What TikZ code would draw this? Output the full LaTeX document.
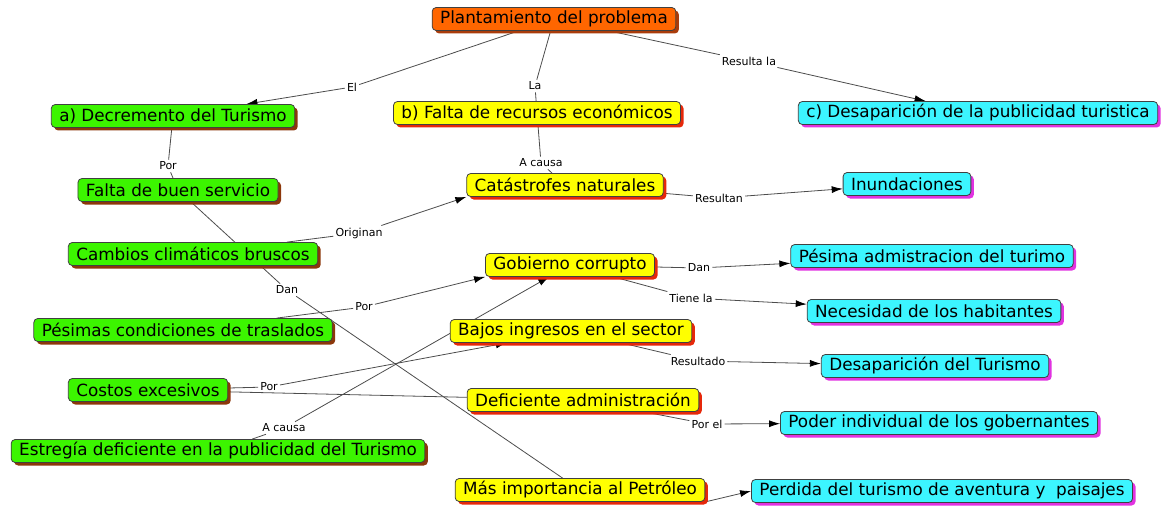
\documentclass[tikz,border=0pt]{standalone}
\usepackage{fontspec}
\setmainfont{DejaVu Sans}
\usetikzlibrary{arrows.meta,shadows,backgrounds}

\definecolor{cnaranja}{RGB}{255,102,0}
\definecolor{snaranja}{RGB}{170,60,10}
\definecolor{cverde}{RGB}{60,245,0}
\definecolor{sverde}{RGB}{140,55,10}
\definecolor{camarillo}{RGB}{255,255,0}
\definecolor{samarillo}{RGB}{230,40,10}
\definecolor{cceleste}{RGB}{60,245,255}
\definecolor{sceleste}{RGB}{225,50,225}

\begin{document}
\begin{tikzpicture}[x=1pt, y=-1pt, >={Latex[length=11pt,width=7pt,color=black]},
  concepto/.style={draw=black!75, line width=0.8pt, rounded corners=4pt,
    inner xsep=8pt, inner ysep=0pt, minimum height=23pt,
    font=\fontsize{16.8}{18}\selectfont},
  naranja/.style={concepto, fill=cnaranja,
    drop shadow={shadow xshift=3pt, shadow yshift=-3pt, fill=snaranja, opacity=1}},
  verde/.style={concepto, fill=cverde,
    drop shadow={shadow xshift=3pt, shadow yshift=-3pt, fill=sverde, opacity=1}},
  amarillo/.style={concepto, fill=camarillo,
    drop shadow={shadow xshift=3pt, shadow yshift=-3pt, fill=samarillo, opacity=1}},
  celeste/.style={concepto, fill=cceleste,
    drop shadow={shadow xshift=3pt, shadow yshift=-3pt, fill=sceleste, opacity=1}},
  enlace/.style={font=\fontsize{11}{12}\selectfont, inner sep=2pt},
  linea/.style={draw=black!70, line width=0.8pt}]

  \useasboundingbox (0,0) rectangle (1162,508);

  % Conceptos
  \node (plan) at (554,19) [naranja] {Plantamiento del problema};
  \node (decre) at (173,116) [verde] {a) Decremento del Turismo};
  \node (falta) at (537,113) [amarillo] {b) Falta de recursos económicos};
  \node (desap) at (978,113) [celeste] {c) Desaparición de la publicidad turistica};
  \node (servicio) at (178,190) [verde] {Falta de buen servicio};
  \node (catas) at (565,185) [amarillo] {Catástrofes naturales};
  \node (inund) at (907,184) [celeste] {Inundaciones};
  \node (cambios) at (193,254) [verde] {Cambios climáticos bruscos};
  \node (gob) at (570,265) [amarillo] {Gobierno corrupto};
  \node (pesadm) at (932,256) [celeste] {Pésima admistracion del turimo};
  \node (necesidad) at (934,311) [celeste] {Necesidad de los habitantes};
  \node (traslados) at (183,330) [verde] {Pésimas condiciones de traslados};
  \node (bajos) at (571,331) [amarillo] {Bajos ingresos en el sector};
  \node (desturismo) at (935,366) [celeste] {Desaparición del Turismo};
  \node (costos) at (148,390) [verde] {Costos excesivos};
  \node (deficiente) at (583,400) [amarillo] {Deficiente administración};
  \node (poder) at (939,423) [celeste] {Poder individual de los gobernantes};
  \node (estrategia) at (218,451) [verde] {Estregía deficiente en la publicidad del Turismo};
  \node (petroleo) at (580,490) [amarillo] {Más importancia al Petróleo};
  \node (perdida) at (942,491) [celeste] {Perdida del turismo de aventura y~ paisajes};

  % Frases de enlace
  \node (lEl) at (352,87) [enlace] {El};
  \node (lLa) at (535,86) [enlace] {La};
  \node (lResulta) at (749,61) [enlace] {Resulta la};
  \node (lPor1) at (168,166) [enlace] {Por};
  \node (lCausa1) at (541,163) [enlace] {A causa};
  \node (lResultan) at (719,198) [enlace] {Resultan};
  \node (lOriginan) at (359,233) [enlace] {Originan};
  \node (lDan1) at (287,290) [enlace] {Dan};
  \node (lDan2) at (699,268) [enlace] {Dan};
  \node (lTiene) at (691,298) [enlace] {Tiene la};
  \node (lPor2) at (364,307) [enlace] {Por};
  \node (lResultado) at (698,361) [enlace] {Resultado};
  \node (lPor3) at (269,387) [enlace] {Por};
  \node (lPorEl) at (707,424) [enlace] {Por el};
  \node (lCausa2) at (284,428) [enlace] {A causa};

  % Conexiones
  \begin{scope}[on background layer]
    \draw[linea] (plan) -- (lEl);
    \draw[linea, ->] (lEl) -- (decre);
    \draw[linea] (plan) -- (lLa);
    \draw[linea] (lLa) -- (falta);
    \draw[linea] (plan) -- (lResulta);
    \draw[linea, ->] (lResulta) -- (desap);
    \draw[linea] (decre) -- (lPor1);
    \draw[linea] (lPor1) -- (servicio);
    \draw[linea] (servicio) -- (lDan1);
    \draw[linea] (lDan1) -- (petroleo);
    \draw[linea] (cambios) -- (lOriginan);
    \draw[linea, ->] (lOriginan) -- (catas.south west);
    \draw[linea] (falta) -- (lCausa1);
    \draw[linea] (lCausa1) -- (catas);
    \draw[linea] (catas) -- (lResultan);
    \draw[linea, ->] (lResultan) -- (inund);
    \draw[linea] (traslados) -- (lPor2);
    \draw[linea, ->] (lPor2) -- (gob.south west);
    \draw[linea] (gob) -- (lDan2);
    \draw[linea, ->] (lDan2) -- (pesadm);
    \draw[linea] (gob) -- (lTiene);
    \draw[linea, ->] (lTiene) -- (necesidad);
    \draw[linea] (costos) -- (lPor3);
    \draw[linea, ->] (lPor3) -- (bajos);
    \draw[linea] (costos) -- (deficiente);
    \draw[linea] (estrategia) -- (lCausa2);
    \draw[linea, ->] (lCausa2) -- (gob);
    \draw[linea] (bajos) -- (lResultado);
    \draw[linea, ->] (lResultado) -- (desturismo);
    \draw[linea] (deficiente) -- (lPorEl);
    \draw[linea, ->] (lPorEl) -- (poder);
    \draw[linea, ->] (petroleo.south east) -- (perdida.west);
  \end{scope}
\end{tikzpicture}
\end{document}
